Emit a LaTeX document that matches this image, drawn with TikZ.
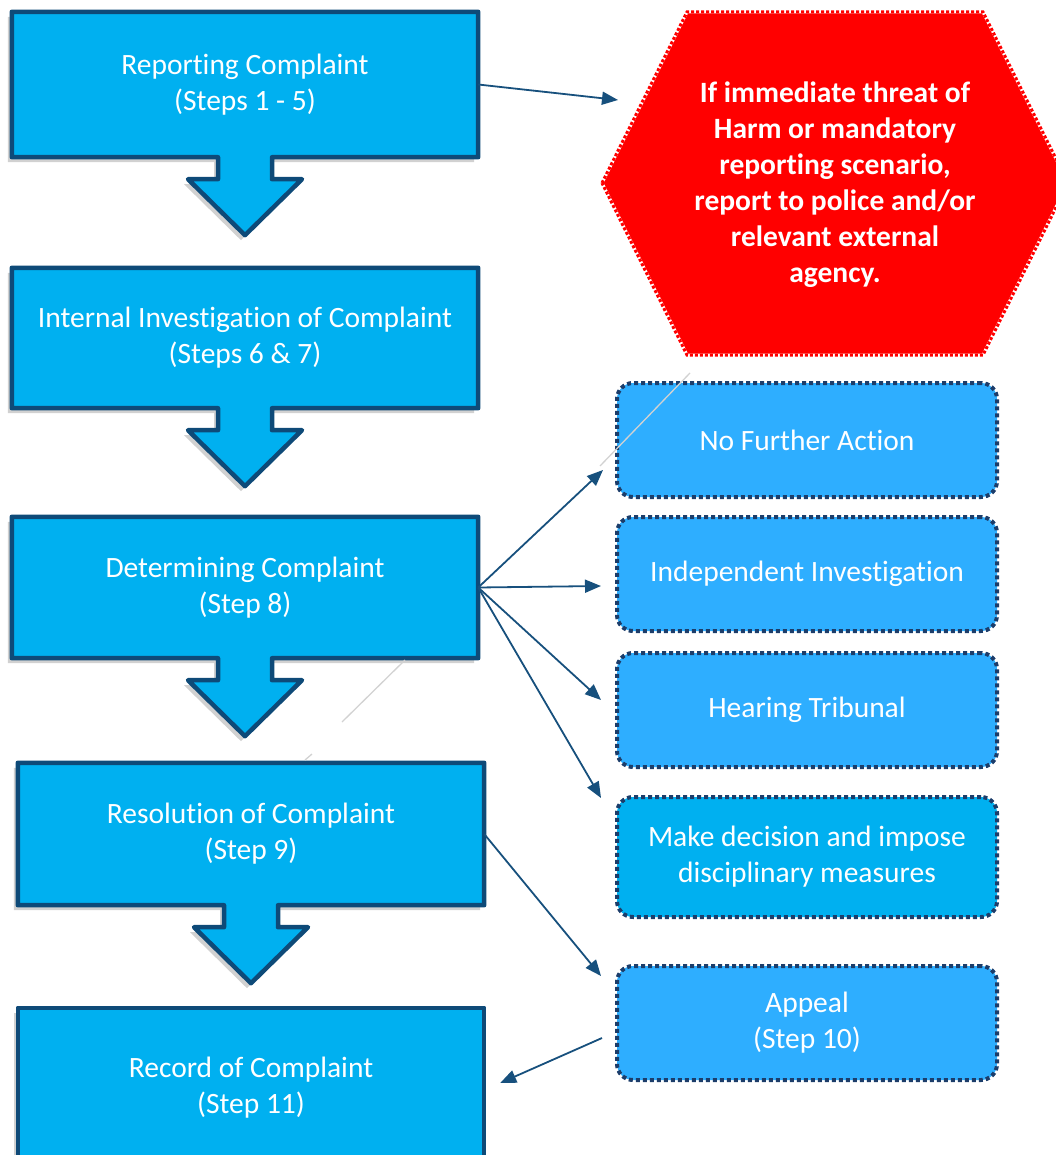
\documentclass[tikz,border=0pt]{standalone}
\usepackage{fontspec}
\setmainfont{Carlito}[Ligatures=NoCommon]
\usetikzlibrary{arrows.meta,calc,backgrounds}
\definecolor{cfill}{HTML}{00B0F0}
\definecolor{cline}{HTML}{0E4A78}
\definecolor{lfill}{HTML}{2EAEFF}
\definecolor{dline}{HTML}{1C3D6A}
\definecolor{arr}{HTML}{17507D}
\definecolor{hexred}{HTML}{FF0000}
\newcommand\calloutpath[2]{%
  \draw[#2] (#1.north west) -- (#1.north east) -- (#1.south east)
    -- ($(#1.south)+(27,0)$) -- ($(#1.south)+(27,22)$) -- ($(#1.south)+(57,22)$)
    -- ($(#1.south)+(0,78)$) -- ($(#1.south)+(-57,22)$) -- ($(#1.south)+(-27,22)$)
    -- ($(#1.south)+(-27,0)$) -- ($(#1.south west)$) -- cycle;}
\begin{document}
\begin{tikzpicture}[x=1pt,y=-1pt,
  txt/.style={font=\fontsize{29.5pt}{36pt}\selectfont, text=white, align=center, inner sep=0pt},
  stepnode/.style={txt, minimum width=466pt},
  cstyle/.style={fill=cfill, draw=cline, line width=4.5pt, line join=round},
  cshadow/.style={fill=black, opacity=0.18, draw=none, transform canvas={shift={(-4pt,-5pt)}}},
  rbox/.style={txt, minimum width=380pt, minimum height=114pt, rounded corners=16pt,
     draw=dline, line width=4pt, dash pattern=on 4pt off 3pt, fill=lfill},
  conn/.style={draw=arr, line width=1.8pt, -{Triangle[length=16pt,width=13pt]}},
  faint/.style={draw=gray!35, line width=1.3pt}]
\useasboundingbox (0,0) rectangle (1056,1155);

% main step nodes
\node[stepnode, minimum height=145pt] (r1) at (245,84.5) {Reporting Complaint\\(Steps 1 - 5)};
\node[stepnode, minimum height=140pt] (r2) at (245,338) {Internal Investigation of Complaint\\(Steps 6 \& 7)};
\node[stepnode, minimum height=141pt] (r3) at (245,587.5) {Determining Complaint\\(Step 8)};
\node[stepnode, minimum height=142pt] (r4) at (251,834) {Resolution of Complaint\\(Step 9)};
\node[stepnode, minimum height=160pt] (r5) at (251,1088) {Record of Complaint\\(Step 11)};

\begin{pgfonlayer}{background}
  \calloutpath{r1}{cshadow}
  \calloutpath{r2}{cshadow}
  \calloutpath{r3}{cshadow}
  \calloutpath{r4}{cshadow}
  \fill[black, opacity=0.18, transform canvas={shift={(-4pt,-5pt)}}] (r5.north west) rectangle (r5.south east);
  \calloutpath{r1}{cstyle}
  \calloutpath{r2}{cstyle}
  \calloutpath{r3}{cstyle}
  \calloutpath{r4}{cstyle}
  \draw[cstyle] (r5.north west) rectangle (r5.south east);
  % hexagon
  \fill[hexred] (602,183) -- (687,12) -- (983,12) -- (1068,183) -- (983,355) -- (687,355) -- cycle;
  \draw[white, line width=3pt] (602,183) -- (687,12) -- (983,12) -- (1068,183) -- (983,355) -- (687,355) -- cycle;
  \draw[hexred, line width=3pt, dash pattern=on 3pt off 2pt] (602,183) -- (687,12) -- (983,12) -- (1068,183) -- (983,355) -- (687,355) -- cycle;
\end{pgfonlayer}
\coordinate (hexL) at (602,183);

\node[txt, font=\fontsize{29.5pt}{36pt}\selectfont\bfseries] (hex) at (835,185)
  {If immediate threat of\\Harm or mandatory\\reporting scenario,\\report to police and/or\\relevant external\\agency.};

% outcome boxes
\node[rbox] (nfa) at (807,440) {No Further Action};
\node[rbox] (ind) at (807,574) {Independent Investigation};
\node[rbox] (hear) at (807,710) {Hearing Tribunal};
\node[rbox, fill=cfill, minimum height=120pt] (make) at (807,857) {Make decision and impose\\disciplinary measures};
\node[rbox] (app) at (807,1023) {Appeal\\(Step 10)};

% faint lines
\draw[faint] (690,373) -- (600,466);
\draw[faint] (405,660) -- (342,722);
\draw[faint] (312,754) -- (305,760);

% connector end points
\coordinate (t0) at ($(hexL)+(16,-83)$);
\coordinate (t1) at ($(nfa.west)+(-12,30)$);
\coordinate (t2) at ($(ind.west)+(-14,12)$);
\coordinate (t3) at ($(hear.west)+(-14,-10)$);
\coordinate (t4) at ($(make.north west)+(-14,3)$);
\coordinate (t5) at ($(app.north west)+(-14,12)$);
\coordinate (s6) at ($(app.west)+(-13,15)$);
\coordinate (t6) at ($(r5.east)+(16,-5)$);

\draw[conn] (r1.east) -- (t0);
\draw[conn] (r3.east) -- (t1);
\draw[conn] (r3.east) -- (t2);
\draw[conn] (r3.east) -- (t3);
\draw[conn] (r3.east) -- (t4);
\draw[conn] (r4.east) -- (t5);
\draw[conn] (s6) -- (t6);
\end{tikzpicture}
\end{document}
